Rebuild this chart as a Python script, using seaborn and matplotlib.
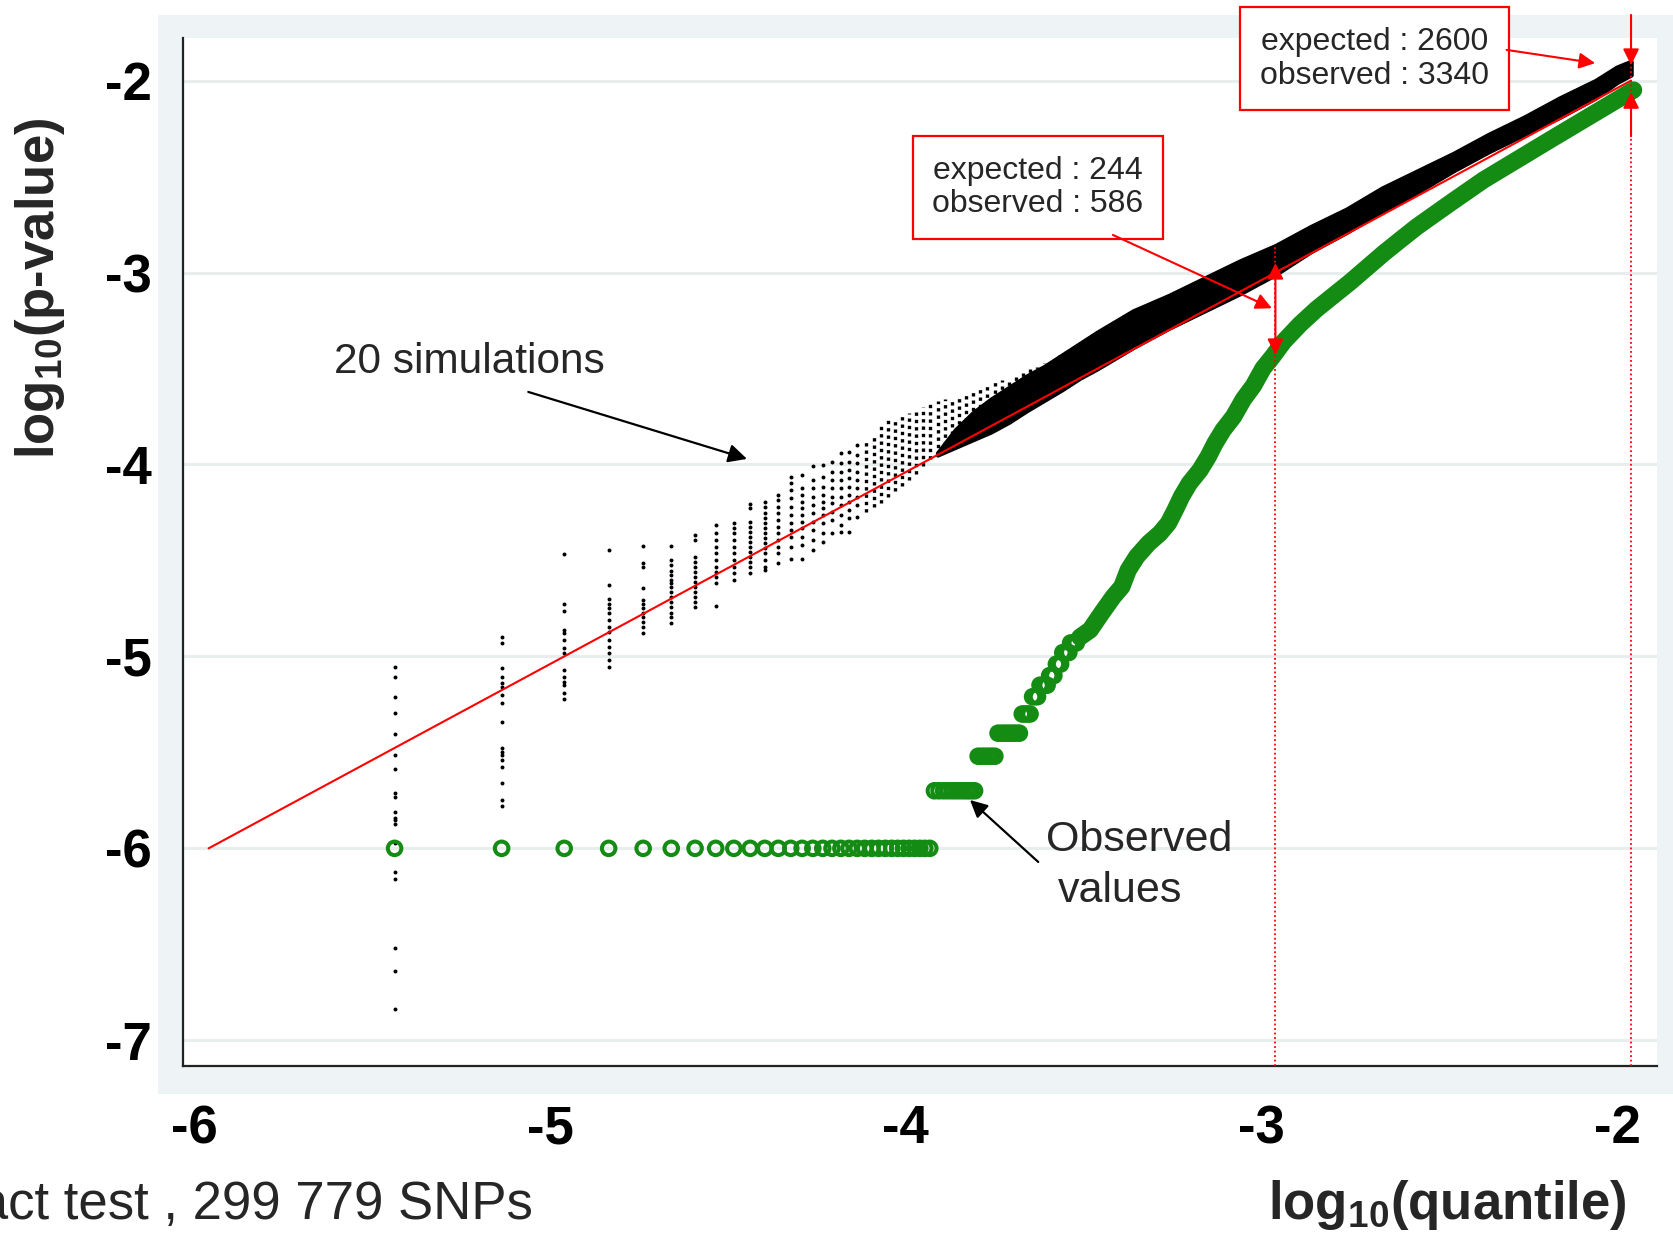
import matplotlib
matplotlib.use("Agg")
import numpy as np
import pandas as pd
import matplotlib.pyplot as plt
import seaborn as sns
from matplotlib.patches import Rectangle
from matplotlib.transforms import ScaledTranslation

# ---------------- data ----------------
x_ticks = [-6, -5, -4, -3, -2]
x_tick_labels = ["-6", "-5", "-4", "-3", "-2"]
y_ticks = [-7, -6, -5, -4, -3, -2]
y_tick_labels = ["-7", "-6", "-5", "-4", "-3", "-2"]

# 20 simulations: sparse columns (log10 quantile position, log10 p-values of dots)
sim_col_x = [-5.477, -5.176, -5.000, -4.875, -4.778, -4.699, -4.632, -4.574, -4.523, -4.477,
             -4.436, -4.398, -4.363, -4.331, -4.301, -4.273, -4.247, -4.222, -4.199, -4.176]
sim_col_y = [
    [-5.054, -5.109, -5.213, -5.297, -5.404, -5.514, -5.588, -5.713, -5.731, -5.809, -5.844,
     -5.851, -5.873, -5.974, -6.122, -6.162, -6.517, -6.640, -6.839],
    [-4.901, -4.932, -5.062, -5.106, -5.140, -5.161, -5.201, -5.245, -5.340, -5.479, -5.497,
     -5.514, -5.540, -5.575, -5.662, -5.748, -5.780],
    [-4.466, -4.727, -4.762, -4.863, -4.880, -4.915, -4.958, -4.984, -5.071, -5.106, -5.132,
     -5.149, -5.193, -5.224],
    [-4.446, -4.628, -4.703, -4.727, -4.750, -4.776, -4.810, -4.845, -4.871, -4.915, -4.949,
     -4.984, -5.019, -5.054],
    [-4.425, -4.515, -4.536, -4.645, -4.706, -4.727, -4.750, -4.776, -4.793, -4.819, -4.845, -4.880],
    [-4.425, -4.498, -4.524, -4.553, -4.576, -4.602, -4.619, -4.637, -4.663, -4.689, -4.715,
     -4.741, -4.776, -4.793, -4.828],
    [-4.367, -4.394, -4.480, -4.506, -4.533, -4.559, -4.585, -4.611, -4.637, -4.663, -4.689,
     -4.715, -4.741],
    [-4.315, -4.359, -4.394, -4.428, -4.463, -4.498, -4.533, -4.559, -4.585, -4.616, -4.737],
    [-4.303, -4.333, -4.359, -4.394, -4.428, -4.463, -4.498, -4.533, -4.567, -4.602],
    [-4.206, -4.229, -4.298, -4.324, -4.350, -4.376, -4.402, -4.428, -4.454, -4.480, -4.506,
     -4.533, -4.567],
    [-4.194, -4.220, -4.255, -4.281, -4.307, -4.333, -4.359, -4.385, -4.411, -4.437, -4.463,
     -4.498, -4.533, -4.550],
    [-4.159, -4.185, -4.220, -4.255, -4.289, -4.324, -4.359, -4.394, -4.428, -4.463, -4.512],
    [-4.067, -4.098, -4.133, -4.176, -4.220, -4.263, -4.307, -4.341, -4.376, -4.428, -4.494],
    [-4.055, -4.124, -4.159, -4.194, -4.229, -4.263, -4.298, -4.333, -4.376, -4.420, -4.494],
    [-4.008, -4.081, -4.124, -4.168, -4.211, -4.255, -4.298, -4.341, -4.394, -4.446],
    [-4.003, -4.064, -4.116, -4.159, -4.194, -4.229, -4.263, -4.307, -4.359, -4.402],
    [-3.985, -4.037, -4.081, -4.124, -4.168, -4.203, -4.246, -4.289, -4.359],
    [-3.938, -3.994, -4.037, -4.081, -4.124, -4.168, -4.211, -4.263, -4.315, -4.350],
    [-3.933, -3.985, -4.029, -4.072, -4.116, -4.159, -4.194, -4.237, -4.281, -4.350],
    [-3.898, -3.951, -3.994, -4.037, -4.081, -4.124, -4.168, -4.211, -4.272],
]

# denser part of the simulation cloud: column position, lowest and highest dot
cloud_x = [-4.15, -4.13, -4.11, -4.09, -4.07, -4.05, -4.03, -4.01, -3.99, -3.97, -3.95,
           -3.93, -3.91, -3.89, -3.87, -3.85, -3.83, -3.81, -3.79, -3.77, -3.75, -3.73,
           -3.71, -3.69, -3.67, -3.65, -3.63, -3.61, -3.59, -3.57, -3.55, -3.53, -3.51]
cloud_hi = [-3.87, -3.85, -3.79, -3.77, -3.76, -3.75, -3.73, -3.71, -3.70, -3.68, -3.67,
            -3.66, -3.655, -3.65, -3.64, -3.62, -3.60, -3.58, -3.57, -3.56, -3.55, -3.54,
            -3.52, -3.50, -3.49, -3.47, -3.45, -3.43, -3.41, -3.40, -3.38, -3.36, -3.34]
cloud_lo = [-4.25, -4.22, -4.20, -4.17, -4.14, -4.11, -4.08, -4.05, -4.01, -3.97, -3.95,
            -3.935, -3.92, -3.905, -3.89, -3.87, -3.855, -3.84, -3.82, -3.80, -3.78, -3.755,
            -3.73, -3.71, -3.69, -3.665, -3.64, -3.62, -3.60, -3.575, -3.55, -3.53, -3.51]

# solid band of the 20 simulations
band_x = [-3.95, -3.90, -3.85, -3.80, -3.75, -3.70, -3.65, -3.60, -3.55, -3.50, -3.40, -3.30,
          -3.20, -3.10, -3.00, -2.90, -2.80, -2.70, -2.60, -2.50, -2.40, -2.30, -2.20, -2.10,
          -2.04, -2.00]
band_hi = [-3.94, -3.82, -3.73, -3.66, -3.60, -3.54, -3.49, -3.43, -3.37, -3.31, -3.20, -3.12,
           -3.03, -2.94, -2.86, -2.76, -2.67, -2.56, -2.47, -2.38, -2.28, -2.19, -2.09, -2.00,
           -1.93, -1.90]
band_lo = [-3.95, -3.91, -3.87, -3.83, -3.78, -3.72, -3.665, -3.61, -3.55, -3.50, -3.39, -3.29,
           -3.20, -3.11, -3.01, -2.89, -2.79, -2.68, -2.58, -2.47, -2.37, -2.28, -2.19, -2.09,
           -2.01, -1.97]

# observed values: floor at -6
obs_floor_y = -6.0
obs_floor_x = [-5.477, -5.176, -5.000, -4.875, -4.778, -4.699, -4.632, -4.574, -4.523, -4.477,
               -4.436, -4.398, -4.363, -4.331, -4.301, -4.273, -4.247, -4.222, -4.199, -4.176,
               -4.155, -4.135, -4.116, -4.097, -4.079, -4.062, -4.046, -4.030, -4.015, -4.000,
               -3.986, -3.972]
# observed values: plateaus (log10 p, positions)
obs_step_y = [-5.70, -5.52, -5.40, -5.30, -5.21, -5.15, -5.10, -5.04, -4.98, -4.93]
obs_step_x = [
    [-3.959, -3.946, -3.933, -3.921, -3.909, -3.898, -3.887, -3.876, -3.866, -3.856, -3.846],
    [-3.836, -3.826, -3.817, -3.807, -3.798, -3.789],
    [-3.780, -3.770, -3.761, -3.753, -3.744, -3.736, -3.728, -3.720],
    [-3.712, -3.705, -3.697, -3.690],
    [-3.683, -3.676, -3.669],
    [-3.662, -3.655, -3.648, -3.642],
    [-3.635, -3.629, -3.623],
    [-3.616, -3.610, -3.604],
    [-3.598, -3.593, -3.587, -3.581],
    [-3.576, -3.570, -3.565, -3.560],
]
# observed values: continuous part
obs_curve_x = [-3.550, -3.521, -3.489, -3.456, -3.432, -3.414, -3.390, -3.357, -3.325, -3.301,
               -3.282, -3.264, -3.242, -3.212, -3.189, -3.170, -3.147, -3.118, -3.090, -3.062,
               -3.035, -3.008, -2.977, -2.931, -2.884, -2.837, -2.790, -2.743, -2.696, -2.649,
               -2.602, -2.509, -2.415, -2.321, -2.228, -2.134, -2.040, -1.993]
obs_curve_y = [-4.900, -4.862, -4.775, -4.689, -4.637, -4.550, -4.480, -4.411, -4.359, -4.306,
               -4.237, -4.167, -4.098, -4.029, -3.959, -3.890, -3.820, -3.751, -3.660, -3.590,
               -3.500, -3.438, -3.360, -3.270, -3.190, -3.120, -3.050, -2.975, -2.900, -2.830,
               -2.761, -2.639, -2.518, -2.413, -2.309, -2.205, -2.101, -2.049]

# expected line y = x
ref_x = [-6, -2]
ref_y = [-6, -2]

# highlighted quantiles
mark_x = [-3, -2]
mark_top = [-2.865, -1.90]
box_texts = ["expected : 244\nobserved : 586", "expected : 2600\nobserved : 3340"]

# ---------------- style ----------------
sns.set_style("white")
plt.rcParams["font.family"] = ["Liberation Sans", "DejaVu Sans"]
plt.rcParams["mathtext.fontset"] = "custom"
plt.rcParams["mathtext.rm"] = "Liberation Sans"
plt.rcParams["mathtext.bf"] = "Liberation Sans:bold"
plt.rcParams["axes.unicode_minus"] = False

W, H = 1673, 1233
fig = plt.figure(figsize=(W / 100, H / 100), dpi=100, facecolor="white")
fig.add_artist(Rectangle((158 / W, 1 - 1094 / H), 1 - 158 / W, (1094 - 15) / H,
                         transform=fig.transFigure, facecolor="#eef3f6", edgecolor="none",
                         zorder=-5))
ax = fig.add_axes([183 / W, 1 - 1066 / H, (1657 - 183) / W, (1066 - 38) / H])
ax.set_facecolor("white")

GREEN = "#148c14"
RED = "#ff0000"

# simulations: sparse columns
sim_df = pd.DataFrame({
    "x": [x for x, ys in zip(sim_col_x, sim_col_y) for _ in ys],
    "y": [y for ys in sim_col_y for y in ys],
})
sns.scatterplot(data=sim_df, x="x", y="y", ax=ax, color="black", s=8, linewidth=0,
                marker="o", zorder=3, legend=False)
# denser columns
ax.vlines(cloud_x, cloud_lo, cloud_hi, colors="black", linewidth=2.4,
          linestyles=(0, (1.0, 1.2)), zorder=3)
# solid band
ax.fill_between(band_x, band_lo, band_hi, color="black", linewidth=3.2, edgecolor="black",
                zorder=3)

# expected line
ax.plot(ref_x, ref_y, color=RED, lw=1.5, zorder=4)

# observed values
floor_df = pd.DataFrame({"x": obs_floor_x, "y": [obs_floor_y] * len(obs_floor_x)})
step_df = pd.DataFrame({
    "x": [x for xs in obs_step_x for x in xs],
    "y": [y for y, xs in zip(obs_step_y, obs_step_x) for _ in xs],
})
obs_pts = pd.concat([floor_df, step_df], ignore_index=True)
sns.scatterplot(data=obs_pts, x="x", y="y", ax=ax, marker="o", s=95,
                facecolors="none", edgecolor=GREEN, linewidth=2.9, zorder=5, legend=False)
ax.plot(obs_curve_x, obs_curve_y, color=GREEN, lw=12.5, solid_capstyle="round",
        solid_joinstyle="round", zorder=5)

# dotted markers of the quantiles
ax.vlines(mark_x, [-7.134, -7.134], mark_top, colors=RED, linestyles=(0, (1, 1.5)),
          linewidth=1.3, zorder=6)

# axes
ax.set_xlim(-6.072, -1.927)
ax.set_ylim(-7.134, -1.778)
ax.set_xticks(x_ticks)
ax.set_xticklabels(x_tick_labels)
ax.set_yticks(y_ticks)
ax.set_yticklabels(y_tick_labels)
ax.set_xlabel("")
ax.set_ylabel("")
ax.grid(axis="y", color="#e8eded", lw=2.2, zorder=0)
ax.grid(axis="x", visible=False)
ax.set_axisbelow(True)
for side in ["top", "right"]:
    ax.spines[side].set_visible(False)
for side in ["left", "bottom"]:
    ax.spines[side].set_color("#222222")
    ax.spines[side].set_linewidth(1.6)
ax.tick_params(axis="both", which="major", direction="out", length=12.5, width=1.5,
               color="#222222", labelsize=38, labelcolor="black")
ax.tick_params(axis="y", pad=10)
ax.tick_params(axis="x", pad=15)
for lab in ax.get_xticklabels() + ax.get_yticklabels():
    lab.set_fontweight("bold")
for lab in ax.get_xticklabels():
    lab.set_transform(lab.get_transform() + ScaledTranslation(-0.14, 0, fig.dpi_scale_trans))

# axis titles
fig.text(40 / W, 1 - 288 / H, r"log$_{\mathbf{10}}$(p-value)", rotation=90, ha="center",
         va="center", fontsize=38, fontweight="bold")
fig.text(1627 / W, 1 - 1205 / H, r"log$_{\mathbf{10}}$(quantile)", ha="right",
         va="center", fontsize=38, fontweight="bold")
fig.text(533 / W, 1 - 1205 / H, "exact test , 299 779 SNPs", ha="right", va="center",
         fontsize=38)

# annotations
ax.text(-5.647, -3.465, "20 simulations", fontsize=30.5, ha="left", va="center", zorder=8)
ax.annotate("", xy=(-4.486, -3.971), xytext=(-5.101, -3.622),
            arrowprops=dict(arrowstyle="-|>", color="black", lw=1.6, mutation_scale=28,
                            shrinkA=0, shrinkB=0), zorder=8)
ax.text(-3.645, -5.955, "Observed", fontsize=31, ha="left", va="center", zorder=8)
ax.text(-3.612, -6.22, "values", fontsize=31, ha="left", va="center", zorder=8)
ax.annotate("", xy=(-3.859, -5.748), xytext=(-3.667, -6.071),
            arrowprops=dict(arrowstyle="-|>", color="black", lw=1.6, mutation_scale=26,
                            shrinkA=0, shrinkB=0), zorder=8)

box_style = dict(boxstyle="square,pad=0.62", facecolor="white", edgecolor=RED, linewidth=1.6)
ax.text(-3.668, -2.557, box_texts[0], fontsize=23, ha="center", va="center",
        linespacing=1.15, bbox=box_style, zorder=9)
ax.text(-2.721, -1.887, box_texts[1], fontsize=23, ha="center", va="center",
        linespacing=1.15, bbox=box_style, zorder=9, clip_on=False)

red_arrow = dict(arrowstyle="-|>", color=RED, lw=1.5, mutation_scale=24, shrinkA=0, shrinkB=0)
red_double = dict(arrowstyle="<|-|>", color=RED, lw=1.5, mutation_scale=24, shrinkA=0,
                  shrinkB=0)
ax.annotate("", xy=(-3.010, -3.186), xytext=(-3.457, -2.804), arrowprops=red_arrow, zorder=9)
ax.annotate("", xy=(-3.0, -3.43), xytext=(-3.0, -2.95), arrowprops=red_double, zorder=9)
ax.annotate("", xy=(-2.101, -1.909), xytext=(-2.350, -1.840), arrowprops=red_arrow, zorder=9,
            annotation_clip=False)
ax.annotate("", xy=(-2.0, -1.919), xytext=(-2.0, -1.658), arrowprops=red_arrow, zorder=9,
            annotation_clip=False)
ax.annotate("", xy=(-2.0, -2.06), xytext=(-2.0, -2.29), arrowprops=red_arrow, zorder=9)

fig.savefig("out.png", dpi=100, facecolor="white")
